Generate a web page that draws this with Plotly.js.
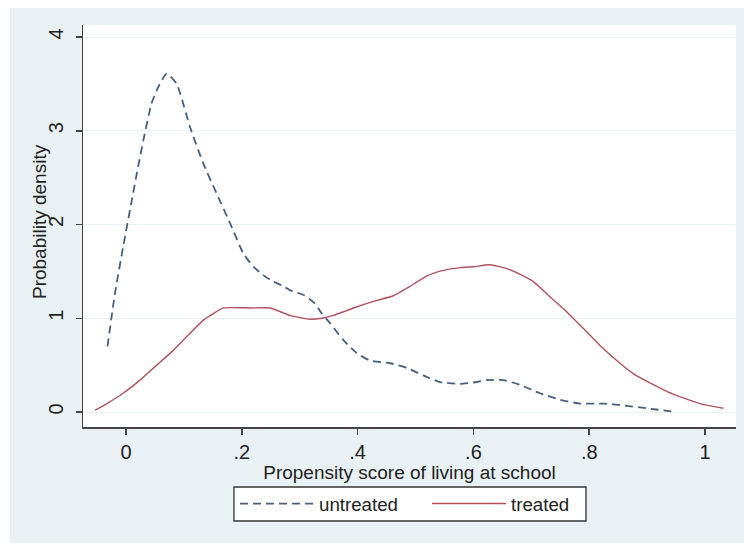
<!DOCTYPE html>
<html>
<head>
<meta charset="utf-8">
<script src="https://cdn.plot.ly/plotly-3.0.1.min.js"></script>
<style>
  html, body { margin: 0; padding: 0; background: #ffffff; width: 744px; height: 543px; overflow: hidden; }
  #chart { position: absolute; left: 10px; top: 8px; width: 734px; height: 535px; }
</style>
</head>
<body>
<div id="chart"></div>
<script>
// Untreated (dashed) kernel density
const untreatedX = [-0.032, -0.019, -0.005, 0.010, 0.021, 0.030, 0.044, 0.056, 0.070, 0.0875, 0.1105, 0.1335, 0.1565, 0.180, 0.2026, 0.220, 0.237, 0.249, 0.272, 0.283, 0.306, 0.326, 0.338, 0.352, 0.375, 0.398, 0.421, 0.456, 0.485, 0.5135, 0.542, 0.577, 0.606, 0.623, 0.652, 0.680, 0.715, 0.750, 0.784, 0.824, 0.859, 0.899, 0.951];
const untreatedY = [0.70, 1.27, 1.76, 2.26, 2.62, 2.90, 3.29, 3.47, 3.61, 3.50, 3.04, 2.65, 2.33, 2.01, 1.69, 1.55, 1.46, 1.41, 1.34, 1.30, 1.25, 1.16, 1.05, 0.95, 0.77, 0.63, 0.55, 0.52, 0.47, 0.39, 0.32, 0.30, 0.32, 0.34, 0.34, 0.29, 0.20, 0.13, 0.09, 0.09, 0.07, 0.04, 0.0];

// Treated (solid) kernel density
const treatedX = [-0.0535, -0.033, -0.005, 0.024, 0.053, 0.082, 0.1105, 0.1335, 0.151, 0.168, 0.214, 0.249, 0.283, 0.318, 0.338, 0.358, 0.398, 0.433, 0.4617, 0.4905, 0.519, 0.548, 0.577, 0.600, 0.6287, 0.6575, 0.680, 0.7035, 0.732, 0.761, 0.790, 0.8187, 0.8475, 0.876, 0.905, 0.934, 0.9626, 0.991, 1.0316];
const treatedY = [0.02, 0.09, 0.20, 0.34, 0.50, 0.66, 0.84, 0.98, 1.05, 1.11, 1.11, 1.11, 1.03, 0.99, 1.00, 1.03, 1.12, 1.19, 1.24, 1.34, 1.45, 1.51, 1.54, 1.55, 1.57, 1.53, 1.47, 1.39, 1.23, 1.07, 0.89, 0.71, 0.55, 0.41, 0.31, 0.22, 0.15, 0.09, 0.04];

const xTickVals = [0, 0.2, 0.4, 0.6, 0.8, 1];
const xTickText = ["0", ".2", ".4", ".6", ".8", "1"];
const yTickVals = [0, 1, 2, 3, 4];
const yTickText = ["0", "1", "2", "3", "4"];

const seriesNames = ["untreated", "treated"];
const xTitle = "Propensity score of living at school";
const yTitle = "Probability density";

const FONT = "Liberation Sans, Arial, sans-serif";

const traces = [
  {
    x: untreatedX, y: untreatedY, name: seriesNames[0], type: "scatter", mode: "lines",
    line: { color: "#45607e", width: 1.8, dash: "8px,5px", shape: "spline", smoothing: 0.5 }
  },
  {
    x: treatedX, y: treatedY, name: seriesNames[1], type: "scatter", mode: "lines",
    line: { color: "#b0525c", width: 1.4, shape: "spline", smoothing: 0.5 }
  }
];

const layout = {
  width: 734, height: 535,
  margin: { l: 73, r: 8, t: 17, b: 116, pad: 0 },
  paper_bgcolor: "#eaf1f4",
  plot_bgcolor: "#ffffff",
  font: { family: FONT, size: 19, color: "#222222" },
  showlegend: true,
  legend: {
    orientation: "h", x: 0.2328, xanchor: "left", y: -0.144, yanchor: "top",
    bgcolor: "rgba(0,0,0,0)", borderwidth: 0,
    font: { family: FONT, size: 18.7, color: "#222222" },
    itemwidth: 74, entrywidth: 103, entrywidthmode: "pixels",
    itemclick: false, itemdoubleclick: false
  },
  shapes: [
    { type: "rect", xref: "paper", yref: "paper", x0: 0.2312, x1: 0.7703, y0: -0.2338, y1: -0.1493,
      fillcolor: "#ffffff", line: { color: "#333333", width: 1.3 }, layer: "above" }
  ],
  annotations: [
    { text: yTitle, xref: "paper", yref: "paper", x: -0.0658, y: 0.51, xanchor: "center", yanchor: "middle",
      textangle: -90, showarrow: false, font: { family: FONT, size: 19, color: "#222222" } }
  ],
  xaxis: {
    range: [-0.0743, 1.0535],
    tickvals: xTickVals, ticktext: xTickText,
    showgrid: false, zeroline: false,
    showline: true, linecolor: "#444444", linewidth: 1.5,
    ticks: "outside", ticklen: 6, tickwidth: 1.5, tickcolor: "#444444",
    tickfont: { family: FONT, size: 20, color: "#222222" },
    title: { text: xTitle, font: { family: FONT, size: 19, color: "#222222" }, standoff: 1 }
  },
  yaxis: {
    range: [-0.16, 4.128],
    tickvals: yTickVals, ticktext: yTickText,
    tickangle: -90, ticklabelstandoff: 5,
    showgrid: true, gridcolor: "#eaf1f4", gridwidth: 1,
    zeroline: false,
    showline: true, linecolor: "#444444", linewidth: 1.5,
    ticks: "outside", ticklen: 6, tickwidth: 1.5, tickcolor: "#444444",
    tickfont: { family: FONT, size: 20, color: "#222222" }
  }
};

Plotly.newPlot("chart", traces, layout, { displayModeBar: false, staticPlot: true });
</script>
</body>
</html>
